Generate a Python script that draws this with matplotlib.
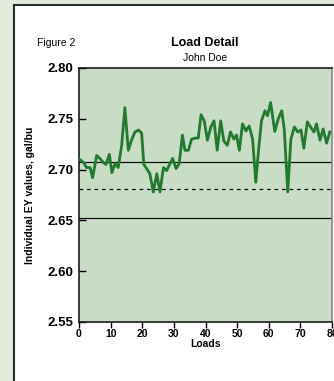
import matplotlib.pyplot as plt
from matplotlib.patches import Rectangle
from matplotlib.ticker import FormatStrFormatter

# values
loads = [0.0, 1.4, 2.4, 3.5, 4.3, 5.6, 6.6, 7.7, 8.5, 9.6,
         10.4, 11.4, 12.4, 13.5, 14.5, 15.6, 16.6, 17.7, 18.8, 19.8,
         20.5, 21.4, 22.4, 23.5, 24.6, 25.6, 26.7, 27.7, 28.8, 29.6,
         30.7, 31.7, 32.7, 33.5, 34.6, 35.6, 36.7, 37.7, 38.6, 39.6,
         40.6, 41.7, 42.7, 43.7, 44.8, 45.8, 46.9, 47.9, 49.0, 49.8,
         50.7, 51.7, 52.8, 53.8, 54.9, 55.9, 56.8, 57.7, 58.8, 59.6,
         60.6, 61.9, 63.0, 64.1, 64.9, 66.0, 67.0, 68.1, 69.2, 70.2,
         71.1, 72.2, 73.2, 74.3, 75.1, 76.2, 77.2, 78.3, 79.3]
ey_values = [2.7105, 2.707, 2.702, 2.702, 2.692, 2.714, 2.711, 2.707, 2.705, 2.715,
             2.697, 2.706, 2.702, 2.724, 2.761, 2.719, 2.729, 2.737, 2.739, 2.736,
             2.705, 2.701, 2.696, 2.678, 2.696, 2.678, 2.702, 2.699, 2.706, 2.711,
             2.701, 2.706, 2.734, 2.719, 2.719, 2.730, 2.731, 2.731, 2.754, 2.748,
             2.729, 2.742, 2.748, 2.719, 2.748, 2.728, 2.724, 2.737, 2.730, 2.734,
             2.719, 2.745, 2.738, 2.743, 2.730, 2.6875, 2.720, 2.748, 2.758, 2.753,
             2.766, 2.7375, 2.750, 2.758, 2.740, 2.678, 2.730, 2.742, 2.737, 2.739,
             2.721, 2.747, 2.742, 2.737, 2.745, 2.729, 2.740, 2.726, 2.737]
mean_line = 2.7075
dashed_line = 2.6807
lower_line = 2.6525
x_ticks = [0, 10, 20, 30, 40, 50, 60, 70, 80]
y_ticks = [2.55, 2.60, 2.65, 2.70, 2.75, 2.80]

plt.rcParams['font.family'] = ['Liberation Sans Narrow', 'Liberation Sans', 'DejaVu Sans']

fig = plt.figure(figsize=(3.34, 3.81), dpi=100)
fig.patch.set_facecolor('#e2ebdc')

# white panel with dark border running off the right and bottom
panel = Rectangle((13.5 / 334, -0.1), 1.2, 1.1 - 5 / 381,
                  transform=fig.transFigure, facecolor='white',
                  edgecolor='#2b2b2b', linewidth=1.5, zorder=-1)
fig.patches.append(panel)

ax = fig.add_axes([79 / 334, 59 / 381, 253 / 334, 254 / 381])
ax.set_zorder(2)
ax.set_facecolor('#c9dcc6')

ax.plot(loads, ey_values, color='#217a2f', linewidth=2.0, zorder=3)
ax.axhline(mean_line, color='#111111', linewidth=0.9, zorder=2)
ax.axhline(dashed_line, color='#111111', linewidth=0.9, linestyle=(0, (3, 3)), zorder=2)
ax.axhline(lower_line, color='#111111', linewidth=0.9, zorder=2)

ax.set_xlim(0, 80)
ax.set_ylim(2.55, 2.80)
ax.set_xticks(x_ticks)
ax.set_yticks(y_ticks)
ax.yaxis.set_major_formatter(FormatStrFormatter('%.2f'))

for lab in ax.get_yticklabels():
    lab.set_fontweight('bold')
ax.tick_params(axis='y', direction='in', length=5, width=1, labelsize=9.5, pad=4)
ax.tick_params(axis='x', direction='out', length=4, width=1, labelsize=7.5, pad=1)
for lab in ax.get_xticklabels():
    lab.set_fontweight('bold')

for side in ['left', 'bottom', 'top']:
    ax.spines[side].set_color('#1a1a1a')
    ax.spines[side].set_linewidth(1.2)
ax.spines['right'].set_color('#888888')
ax.spines['right'].set_linewidth(1.2)

ax.set_xlabel('Loads', fontsize=7.5, fontweight='bold', labelpad=0)
fig.text(30 / 334, 1 - 195 / 381, 'Individual EY values, gal/bu', rotation=90,
         ha='center', va='center', fontsize=7.5, fontweight='bold')

fig.text(205 / 334, 1 - 43 / 381, 'Load Detail', ha='center', va='center',
         fontsize=9, fontweight='bold')
fig.text(205 / 334, 1 - 58 / 381, 'John Doe', ha='center', va='center', fontsize=7.5)
fig.text(37 / 334, 1 - 43 / 381, 'Figure 2', ha='left', va='center', fontsize=7.5)

fig.savefig('out.png', dpi=100, facecolor=fig.get_facecolor())
